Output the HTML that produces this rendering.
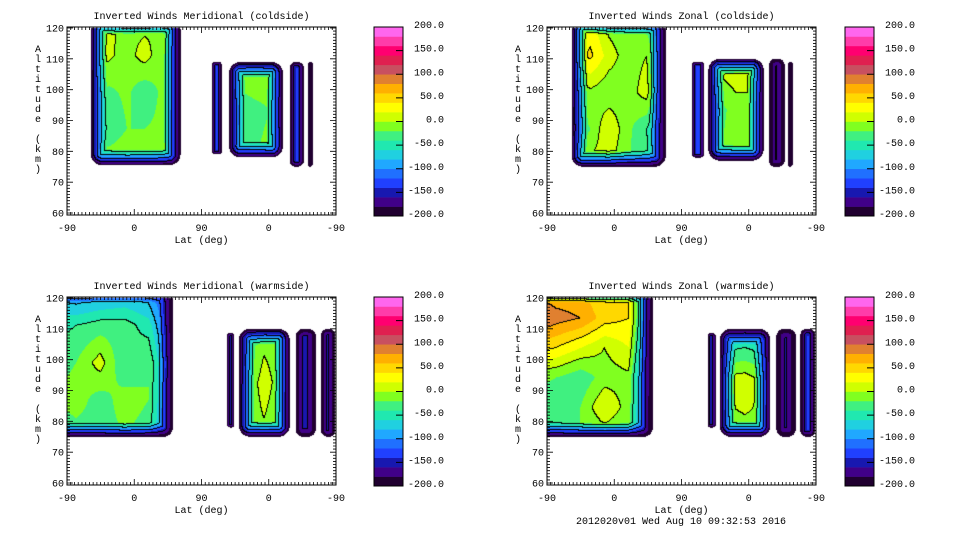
<!DOCTYPE html>
<html><head><meta charset="utf-8">
<style>
html,body{margin:0;padding:0;background:#fff;}
#wrap{position:relative;width:960px;height:540px;overflow:hidden;}
canvas,svg{position:absolute;left:0;top:0;}
text{font-family:"Liberation Mono","DejaVu Sans Mono",monospace;font-size:10px;fill:#000;}
</style></head>
<body>
<div id="wrap">
<canvas id="cv" width="960" height="540"></canvas>
<svg id="sv" width="960" height="540"></svg>
</div>
<script>
// ---- data ----
const panelTitles = ["Inverted Winds Meridional (coldside)","Inverted Winds Zonal (coldside)","Inverted Winds Meridional (warmside)","Inverted Winds Zonal (warmside)"];
const xTickLabels = ["-90","0","90","0","-90"];
const xTickValues = [0,90,180,270,360];
const yTickValues = [60,70,80,90,100,110,120];
const cbarLabels = ["200.0","150.0","100.0","50.0","0.0","-50.0","-100.0","-150.0","-200.0"];
const bandColors = ['#200030','#400088','#1818b0','#2040ff','#2070ff','#20a8ff','#20d0e0','#20e8b0','#40f080','#80ff20','#d0ff00','#ffff00','#ffd800','#ffb000','#e08030','#c85060','#e02050','#ff0070','#ff3caa','#ff66ee'];
const footerText = "2012020v01 Wed Aug 10 09:32:53 2016";

// blocks: lat range (0..360 axis index), altitude range, edge falloff, interior grid (rows top->bottom)
const blocksMeridCold = [
 {lat0:32,lat1:152,alt0:75.5,alt1:123,edge:16,vals:[[0,5,-5,-10,5,-60],[10,5,-10,10,-15,-70],[-10,-25,-15,-35,-15,-70],[-15,-40,-20,-20,-15,-80],[-5,0,5,0,-10,-80]]},
 {lat0:194,lat1:207,alt0:79,alt1:109,edge:4,vals:[[-140]]},
 {lat0:217,lat1:289,alt0:78,alt1:109,edge:16,vals:[[-5,0,-10],[-35,-25,-15],[-25,-20,-10]]},
 {lat0:298,lat1:317,alt0:75,alt1:109,edge:9,vals:[[-110]]},
 {lat0:322,lat1:329,alt0:75,alt1:109,edge:4,vals:[[-190]]}
];
const blocksZonalCold = [
 {lat0:33,lat1:159,alt0:75,alt1:123,edge:16,vals:[[15,25,-10,-20,-30,-80],[20,45,10,-10,0,-80],[-20,-5,-15,-10,10,-90],[-40,-20,20,-15,-40,-100],[30,10,5,-20,-30,-110]]},
 {lat0:194,lat1:210,alt0:78,alt1:109,edge:4,vals:[[-140]]},
 {lat0:216,lat1:290,alt0:77,alt1:110,edge:16,vals:[[10,20,20],[-40,-10,-10],[-30,-5,-10]]},
 {lat0:297,lat1:318,alt0:75,alt1:110,edge:9,vals:[[-150]]},
 {lat0:322,lat1:329,alt0:75,alt1:109,edge:4,vals:[[-190]]}
];
const blocksMeridWarm = [
 {lat0:-20,lat1:142,alt0:75,alt1:123,edge:14,vals:[[-90,-110,-100,-90,-100,-150],[-50,-40,-30,-30,-50,-140],[-30,-20,10,-40,-20,-120],[-20,-10,-30,-10,-20,-130],[-40,-30,-30,-20,-30,-140]]},
 {lat0:214,lat1:224,alt0:78,alt1:108.6,edge:4,vals:[[-140]]},
 {lat0:230,lat1:298,alt0:75,alt1:110,edge:16,vals:[[-60,-10,-10],[-30,10,-20],[-20,-5,-20]]},
 {lat0:306,lat1:333,alt0:75,alt1:110,edge:11,vals:[[-140]]},
 {lat0:340,lat1:359,alt0:75,alt1:110,edge:9,vals:[[-140]]}
];
const blocksZonalWarm = [
 {lat0:-20,lat1:142,alt0:75,alt1:123,edge:14,vals:[[70,60,60,40,40,-150],[110,90,80,50,40,-150],[50,40,20,0,20,-160],[-10,-20,-35,-10,-5,-170],[-40,-40,-20,20,-10,-170],[-40,-30,-20,-15,-20,-170]]},
 {lat0:215,lat1:226,alt0:78,alt1:108.6,edge:4,vals:[[-140]]},
 {lat0:231,lat1:299,alt0:75,alt1:110,edge:16,vals:[[-80,-70,-80],[10,15,-5],[-20,-10,-10]]},
 {lat0:307,lat1:333,alt0:75,alt1:110,edge:11,vals:[[-150]]},
 {lat0:339,lat1:359,alt0:75,alt1:110,edge:9,vals:[[-120]]}
];
const panelBlocks = [blocksMeridCold, blocksZonalCold, blocksMeridWarm, blocksZonalWarm];

// ---- layout ----
const PW = 269, PH = 185;
const offsets = [[0,0],[480,0],[0,270],[480,270]];
function xScale(p, lat){ return 67 + offsets[p][0] + lat/360*PW; }
function yScale(p, alt){ return 28 + offsets[p][1] + (120-alt)/60*PH; }

function hexRGB(h){ return [parseInt(h.substr(1,2),16),parseInt(h.substr(3,2),16),parseInt(h.substr(5,2),16)]; }
const rgb = bandColors.map(hexRGB);
function band(v){ let b=Math.floor((v+200)/20); return Math.max(0,Math.min(19,b)); }

function interp(bl, lat, alt){
  const g=bl.vals, nr=g.length, nc=g[0].length;
  let u = nc>1 ? (lat-bl.lat0)/(bl.lat1-bl.lat0)*(nc-1) : 0;
  let w = nr>1 ? (bl.alt1-alt)/(bl.alt1-bl.alt0)*(nr-1) : 0;
  u=Math.max(0,Math.min(nc-1,u)); w=Math.max(0,Math.min(nr-1,w));
  const i0=Math.floor(u), j0=Math.floor(w), i1=Math.min(nc-1,i0+1), j1=Math.min(nr-1,j0+1);
  const fu=u-i0, fw=w-j0;
  return (g[j0][i0]*(1-fu)+g[j0][i1]*fu)*(1-fw)+(g[j1][i0]*(1-fu)+g[j1][i1]*fu)*fw;
}

const cv=document.getElementById('cv'), ctx=cv.getContext('2d');
const img=ctx.createImageData(960,540);
for(let p=0;p<4;p++){
  const x0=Math.round(xScale(p,0)), y0=Math.round(yScale(p,120));
  const bandGrid=new Int16Array(PW*PH).fill(-1);
  for(const bl of panelBlocks[p]){
    const bx0=xScale(p,bl.lat0), bx1=xScale(p,bl.lat1), by0=yScale(p,bl.alt1), by1=yScale(p,bl.alt0);
    const cx=(bx0+bx1)/2, cy=(by0+by1)/2, hx=(bx1-bx0)/2, hy=(by1-by0)/2;
    const r=Math.min(bl.edge*0.7,hx,hy);
    for(let py=Math.max(0,Math.floor(by0-y0));py<Math.min(PH,Math.ceil(by1-y0));py++){
      for(let px=Math.max(0,Math.floor(bx0-x0));px<Math.min(PW,Math.ceil(bx1-x0));px++){
        const X=x0+px+0.5, Y=y0+py+0.5;
        const qx=Math.abs(X-cx)-(hx-r), qy=Math.abs(Y-cy)-(hy-r);
        const sd=Math.hypot(Math.max(qx,0),Math.max(qy,0))+Math.min(Math.max(qx,qy),0)-r;
        if(sd>0) continue;
        const lat=(X-xScale(p,0))/PW*360, alt=120-(Y-yScale(p,120))/PH*60;
        const vin=interp(bl,lat,alt);
        const f=Math.min(1,-sd/bl.edge);
        const v=-200+(vin+200)*f;
        bandGrid[py*PW+px]=band(v);
      }
    }
  }
  for(let py=0;py<PH;py++)for(let px=0;px<PW;px++){
    const b=bandGrid[py*PW+px]; if(b<0) continue;
    let c=rgb[b];
    const br=px+1<PW?bandGrid[py*PW+px+1]:-1, bd=py+1<PH?bandGrid[(py+1)*PW+px]:-1;
    const h=b>>1;
    if((br>=0&&(br>>1)!==h)||(bd>=0&&(bd>>1)!==h)) c=[0,0,0];
    const k=((y0+py)*960+(x0+px))*4;
    img.data[k]=c[0];img.data[k+1]=c[1];img.data[k+2]=c[2];img.data[k+3]=255;
  }
}
ctx.putImageData(img,0,0);

// ---- svg overlay ----
const NS='http://www.w3.org/2000/svg', sv=document.getElementById('sv');
function mk(tag,attrs,parent){ const e=document.createElementNS(NS,tag); for(const k in attrs) e.setAttribute(k,attrs[k]); (parent||sv).appendChild(e); return e; }
function txt(s,x,y,anchor,parent){ const t=mk('text',{x:x,y:y,'text-anchor':anchor||'middle'},parent); t.textContent=s; return t; }

for(let p=0;p<4;p++){
  const g=mk('g',{});
  
  
  const dx=offsets[p][0], dy=offsets[p][1];
  const L=xScale(p,0), R=xScale(p,360), T=yScale(p,120)-1, B=yScale(p,60)+2;
  const t=txt(panelTitles[p],L+PW/2,19+dy,'middle',g);
  
  
  const box=mk('rect',{x:L,y:T,width:PW,height:B-T,fill:'none',stroke:'#000','stroke-width':1},g);
  
  
  let d='';
  for(let lat=0;lat<=360;lat+=5){ const x=xScale(p,lat); const len=lat%90===0?6:3; d+=`M${x} ${B}v${-len}M${x} ${T}v${len}`; }
  for(let alt=60;alt<=120;alt+=1){ const y=yScale(p,alt); const len=alt%10===0?6:3; d+=`M${L} ${y}h${len}M${R} ${y}h${-len}`; }
  const ticks=mk('path',{d:d,stroke:'#000','stroke-width':0.8,fill:'none'},g);
  
  
  xTickValues.forEach((v,i)=>{ const e=txt(xTickLabels[i],xScale(p,v),231+dy,'middle',g);
    
     });
  yTickValues.forEach(v=>{ const e=txt(String(v),64+dx,yScale(p,v)+3.5,'end',g);
    
     });
  const xt=txt('Lat (deg)',L+PW/2,243+dy,'middle',g);
  
  
  const yt=mk('text',{x:38+dx,y:0,'text-anchor':'middle'},g);
  
  
  'Altitude (km)'.split('').forEach((ch,i)=>{ const ts=mk('tspan',{x:38+dx,y:52+dy+i*10},yt); ts.textContent=ch===' '?'\u00a0':ch; });
  // colorbar
  const cbx=dx===0?374:845, cbT=27+dy, cbH=189, bh=cbH/20;
  const cb=mk('g',{},g);
  
  
  bandColors.forEach((c,i)=>{ const r=mk('rect',{x:cbx,y:cbT+cbH-(i+1)*bh,width:29,height:bh+0.3,fill:c},cb);
    
     });
  mk('rect',{x:cbx,y:cbT,width:29,height:cbH,fill:'none',stroke:'#000','stroke-width':1},cb);
  cbarLabels.forEach((s,i)=>{ const y=cbT+i*cbH/8;
    mk('path',{d:`M${cbx+22} ${y}h7`,stroke:'#000','stroke-width':1},cb);
    const e=txt(s,dx===0?444:915,y+1,'end',cb);
    
     });
}
const ft=txt(footerText,681,524,'middle');


</script>
</body></html>
